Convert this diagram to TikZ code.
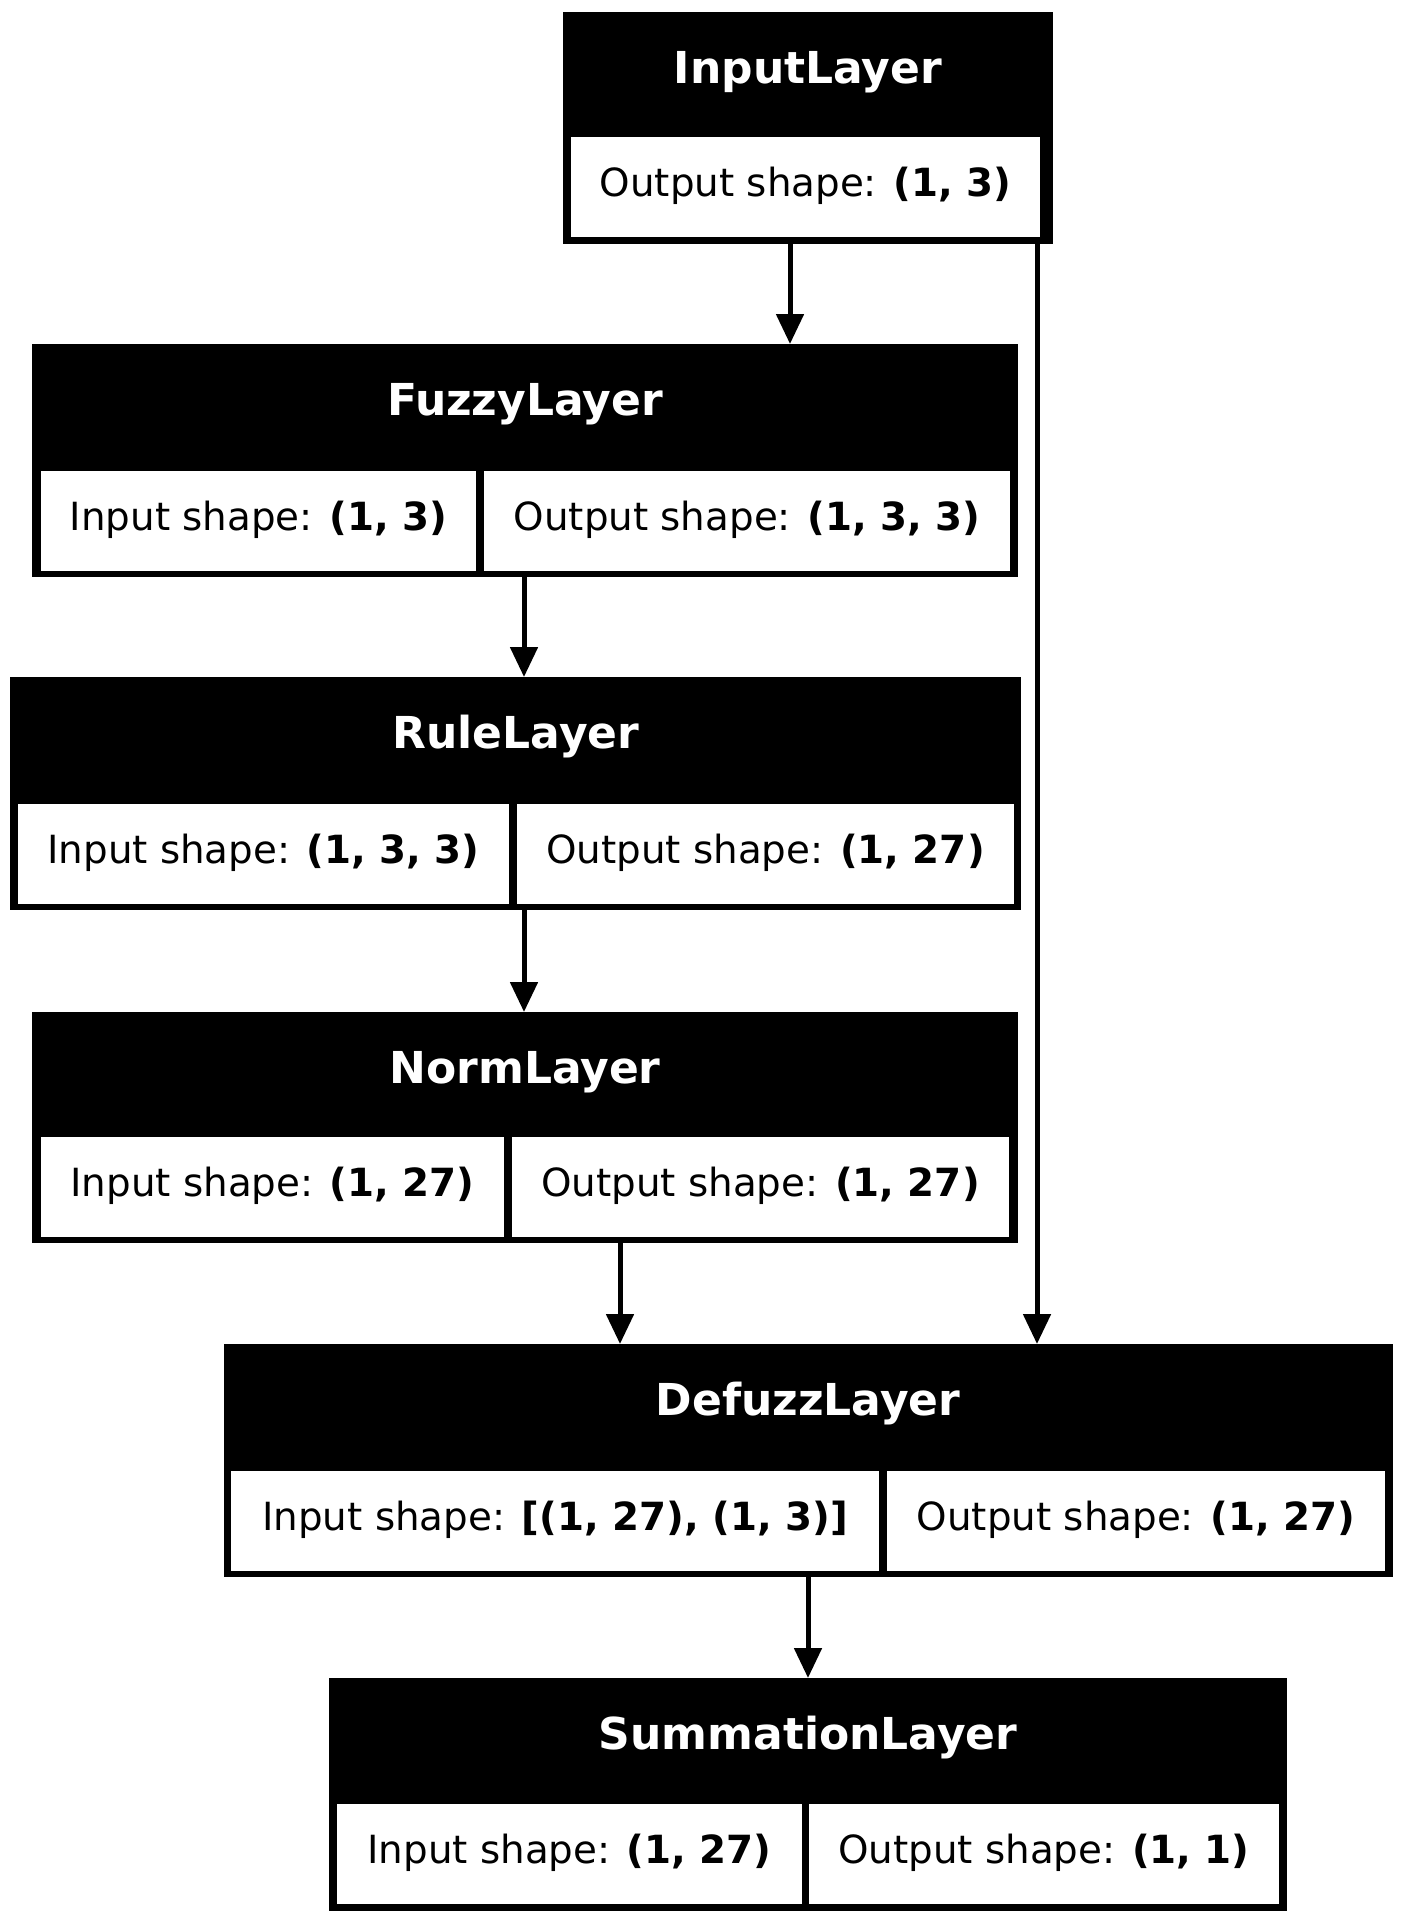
\documentclass[tikz,border=0pt]{standalone}
\usepackage{fontspec}
\setmainfont{DejaVu Sans}
\usetikzlibrary{arrows.meta}
\tikzset{
  box/.style={fill=black, inner sep=0pt, outer sep=0pt, anchor=north west},
  cell/.style={fill=white, inner sep=0pt, outer sep=0pt, anchor=north west, minimum height=100pt,
    text height=26pt, text depth=7pt,
    font=\fontsize{38.8}{44}\selectfont, text=black},
  ttl/.style={font=\fontsize{44}{50}\selectfont\bfseries, text=white, anchor=base, inner sep=0pt},
  arr/.style={line width=5pt, -{Triangle[length=30pt,width=27pt]}},
}
\begin{document}
\begin{tikzpicture}[x=1pt,y=-1pt]
\useasboundingbox[fill=white] (0,0) rectangle (1403,1922);

% InputLayer
\node[box, minimum width=490pt, minimum height=232pt] (in) at (563,12) {};
\node[cell, minimum width=469pt] (inO) at (571,137) {Output shape: \textbf{(1, 3)}};
\node[ttl] (inT) at (808,83) {InputLayer};

% FuzzyLayer
\node[box, minimum width=986pt, minimum height=233pt] (fz) at (32,344) {};
\node[cell, minimum width=435pt] (fzI) at (41,471) {Input shape: \textbf{(1, 3)}};
\node[cell, minimum width=526pt] (fzO) at (484,471) {Output shape: \textbf{(1, 3, 3)}};
\node[ttl] (fzT) at (525,415) {FuzzyLayer};

% RuleLayer
\node[box, minimum width=1011pt, minimum height=233pt] (rl) at (10,677) {};
\node[cell, minimum width=491pt] (rlI) at (18,804) {Input shape: \textbf{(1, 3, 3)}};
\node[cell, minimum width=497pt] (rlO) at (517,804) {Output shape: \textbf{(1, 27)}};
\node[ttl] (rlT) at (516,748) {RuleLayer};

% NormLayer
\node[box, minimum width=986pt, minimum height=231pt] (nm) at (32,1012) {};
\node[cell, minimum width=463pt] (nmI) at (41,1137) {Input shape: \textbf{(1, 27)}};
\node[cell, minimum width=497pt] (nmO) at (512,1137) {Output shape: \textbf{(1, 27)}};
\node[ttl] (nmT) at (525,1083) {NormLayer};

% DefuzzLayer
\node[box, minimum width=1169pt, minimum height=233pt] (df) at (224,1344) {};
\node[cell, minimum width=648pt] (dfI) at (231,1471) {Input shape: \textbf{[(1, 27), (1, 3)]}};
\node[cell, minimum width=498pt] (dfO) at (887,1471) {Output shape: \textbf{(1, 27)}};
\node[ttl] (dfT) at (808,1415) {DefuzzLayer};

% SummationLayer
\node[box, minimum width=958pt, minimum height=233pt] (sm) at (329,1678) {};
\node[cell, minimum width=465pt] (smI) at (337,1804) {Input shape: \textbf{(1, 27)}};
\node[cell, minimum width=470pt] (smO) at (809,1804) {Output shape: \textbf{(1, 1)}};
\node[ttl] (smT) at (808,1749) {SummationLayer};

% port columns
\coordinate (c1) at (790,0);
\coordinate (c2) at (1037,0);
\coordinate (c3) at (524,0);
\coordinate (c4) at (620,0);
\coordinate (c5) at (808,0);

\draw[arr] (in.south -| c1) -- (fz.north -| c1);
\draw[arr] (in.south -| c2) -- (df.north -| c2);
\draw[arr] (fz.south -| c3) -- (rl.north -| c3);
\draw[arr] (rl.south -| c3) -- (nm.north -| c3);
\draw[arr] (nm.south -| c4) -- (df.north -| c4);
\draw[arr] (df.south -| c5) -- (sm.north -| c5);
\end{tikzpicture}
\end{document}
